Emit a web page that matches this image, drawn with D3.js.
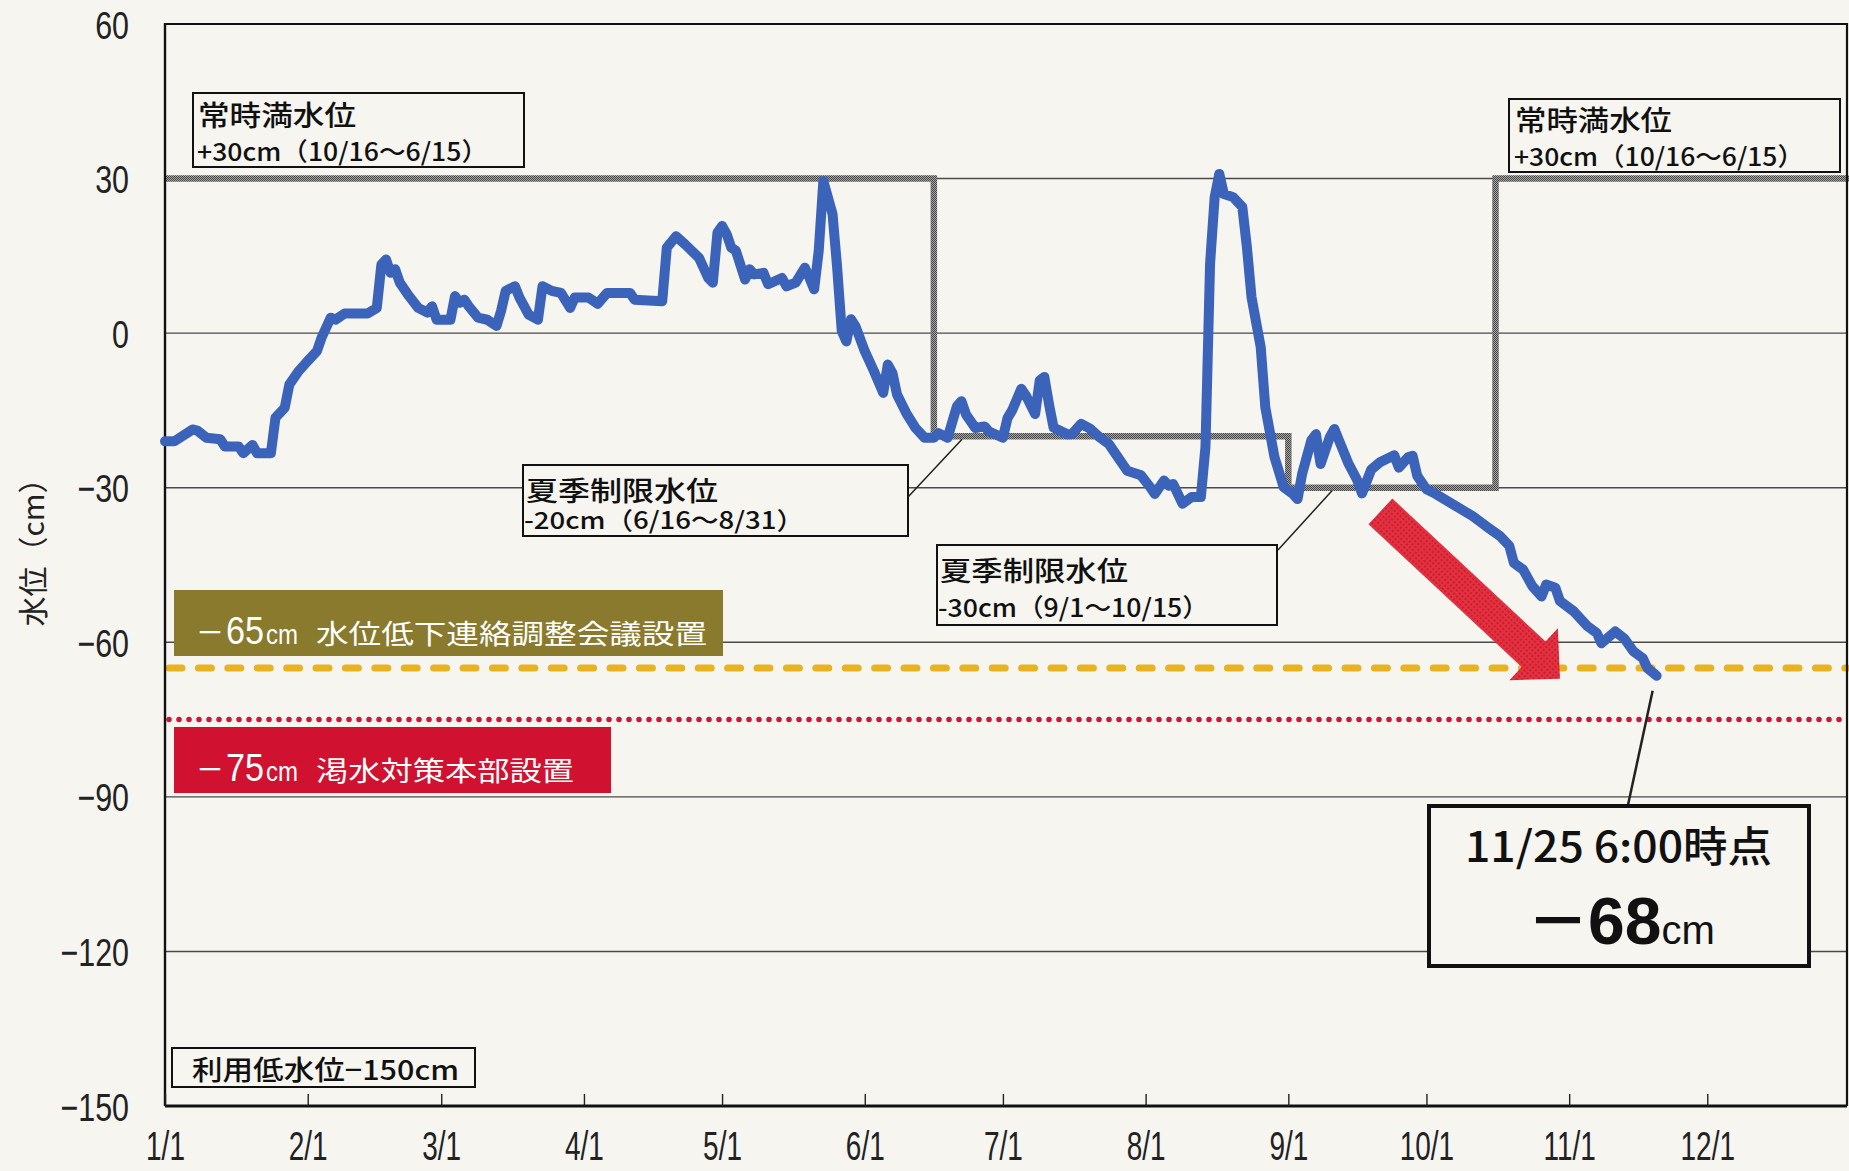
<!DOCTYPE html>
<html>
<head>
<meta charset="utf-8">
<script src="https://cdn.jsdelivr.net/npm/d3@7"></script>
<style>
  body { margin: 0; background: #f6f5f0; }
  svg { display: block; }
</style>
</head>
<body>
<div id="chart"></div>
<script>
// water level readings (cm), 2024
var dates = ["1/1","1/3","1/7","1/8","1/10","1/13","1/14","1/17","1/18","1/20","1/21","1/24","1/25","1/27","1/28","1/30",
  "2/1","2/3","2/4","2/6","2/7","2/9","2/14","2/16","2/17","2/18","2/19","2/20","2/21","2/23","2/25","2/27","2/28","2/29",
  "3/3","3/4","3/5","3/6","3/7","3/9","3/11","3/13","3/14","3/15","3/17","3/18","3/20","3/22","3/23","3/25","3/27","3/29","3/30",
  "4/2","4/4","4/6","4/11","4/12","4/18","4/19","4/21","4/23","4/26","4/28","4/29","4/30",
  "5/1","5/2","5/3","5/4","5/6","5/7","5/8","5/10","5/11","5/14","5/15","5/17","5/19","5/20","5/21","5/22","5/23","5/25","5/26","5/27","5/28","5/29","5/30",
  "6/1","6/3","6/5","6/6","6/7","6/8","6/10","6/12","6/14","6/16","6/17","6/19","6/21","6/22","6/23","6/25","6/27","6/28",
  "7/1","7/2","7/3","7/5","7/6","7/8","7/9","7/10","7/11","7/12","7/15","7/16","7/18","7/20","7/22","7/24","7/26","7/28","7/31",
  "8/2","8/3","8/5","8/6","8/7","8/9","8/11","8/13","8/14","8/15","8/16","8/17","8/18","8/20","8/22","8/23","8/24","8/26","8/27","8/29","8/31",
  "9/2","9/3","9/4","9/6","9/7","9/8","9/10","9/11","9/12","9/14","9/16","9/17","9/19","9/21","9/24","9/25","9/27","9/28","9/29",
  "10/1","10/3","10/5","10/8","10/11","10/14","10/17","10/19","10/20","10/22","10/24","10/26","10/27","10/29","10/30",
  "11/2","11/5","11/7","11/8","11/11","11/13","11/15","11/17","11/18","11/20"];
var levels = [-21,-21,-18.7,-18.9,-20.3,-20.6,-22,-22,-23.3,-21.7,-23.3,-23.3,-16.4,-14.5,-10,-7.4,
  -5.4,-3.5,-0.9,3,2.6,3.8,3.8,4.9,13.3,14.3,11.7,12.4,9.8,7.2,4.9,4,5.2,2.6,
  2.6,7.2,5.9,6.5,5.2,3,2.6,1.4,4.3,8.2,9.1,6.9,3.6,2.6,9.1,8.2,7.8,4.9,6.9,
  6.9,5.7,7.8,7.8,6.5,6.2,16.6,18.8,17.2,14.6,10.7,9.8,19.5,
  20.8,19.2,16.6,16,10.4,12.4,11.4,11.7,9.5,10.7,9.1,9.8,12.7,10.7,8.5,16,29.5,23.1,12.7,0.4,-1.6,2.7,1.3,
  -3.5,-7.4,-11.6,-6.1,-7.7,-11.9,-15.5,-18.4,-20.3,-20.3,-19.4,-20.3,-14.2,-13.2,-15.8,-18.4,-18.1,-19.1,
  -20.3,-16.5,-15,-10.8,-12.1,-15.7,-9.2,-8.5,-13.7,-18.3,-19.6,-19.6,-17.6,-18.6,-20.2,-21.5,-24.1,-26.7,-27.6,
  -29.9,-31.2,-28.6,-29.6,-29.3,-33.1,-31.8,-31.8,-22.1,13.5,26.4,30.9,27,26.4,24.5,16.7,7,-2.7,-14.4,-24.1,-29.9,
  -31.2,-32.2,-27.3,-20.8,-19.6,-25.4,-20.2,-18.6,-20.8,-25.2,-28.6,-31.1,-26.5,-25,-23.7,-26.1,-24.1,-23.8,-27.7,
  -30.3,-31.2,-32.3,-33.9,-35.5,-37.5,-39.4,-41.3,-44.6,-45.9,-49.1,-51.1,-48.8,-49.4,-52,
  -54,-56.9,-58.2,-60.2,-57.9,-59.3,-61.8,-63.1,-65,-66.5];

// operating rule (step), starts and levels
var ruleStarts = ["1/1","6/16","9/1","10/16"];
var ruleLevels = [30,-20,-30,30];

// thresholds
var thresholdLevels = [-65,-75];

var yTicks = [60,30,0,-30,-60,-90,-120,-150];
var gridLevels = [30,0,-30,-60,-90,-120];
var monthTicks = ["1/1","2/1","3/1","4/1","5/1","6/1","7/1","8/1","9/1","10/1","11/1","12/1"];

var W = 1849, H = 1171;
var plotL = 165, plotR = 1847, plotT = 24, plotB = 1106;
var bg = "#f6f5f0";
var jp = "'Noto Sans CJK JP', sans-serif";
var num = "'Liberation Sans', Arial, sans-serif";

var parse = d3.timeParse("%Y/%m/%d");
function day(s) { return parse("2024/" + s); }

var x = d3.scaleTime()
  .domain([day("1/1"), parse("2025/1/1")])
  .range([plotL, 1850]);
var y = d3.scaleLinear()
  .domain([-150, 60])
  .range([plotB, plotT]);

var svg = d3.select("#chart").append("svg")
  .attr("width", W).attr("height", H);

svg.append("rect").attr("width", W).attr("height", H).attr("fill", bg);

var defs = svg.append("defs");
var checker = defs.append("pattern")
  .attr("id", "checker")
  .attr("patternUnits", "userSpaceOnUse")
  .attr("width", 2).attr("height", 2);
checker.append("rect").attr("width", 2).attr("height", 2).attr("fill", "#a8a8a8");
checker.append("rect").attr("width", 1).attr("height", 1).attr("fill", "#444");
checker.append("rect").attr("x", 1).attr("y", 1).attr("width", 1).attr("height", 1).attr("fill", "#444");

var dots = defs.append("pattern")
  .attr("id", "halftone")
  .attr("patternUnits", "userSpaceOnUse")
  .attr("width", 4).attr("height", 4);
dots.append("rect").attr("width", 4).attr("height", 4).attr("fill", "#e4313f");
dots.append("circle").attr("cx", 2).attr("cy", 2).attr("r", 1.1).attr("fill", "#c01830");

// grid
svg.append("g").selectAll("line")
  .data(gridLevels)
  .join("line")
  .attr("x1", plotL).attr("x2", plotR)
  .attr("y1", d => y(d)).attr("y2", d => y(d))
  .attr("stroke", "#4a4a4a")
  .attr("stroke-width", 1.4);

// threshold lines
svg.append("line")
  .attr("x1", plotL + 4).attr("x2", plotR)
  .attr("y1", y(thresholdLevels[0])).attr("y2", y(thresholdLevels[0]))
  .attr("stroke", "#e8b321")
  .attr("stroke-width", 7)
  .attr("stroke-linecap", "round")
  .attr("stroke-dasharray", "13 16.4");
svg.append("line")
  .attr("x1", plotL + 4).attr("x2", plotR)
  .attr("y1", y(thresholdLevels[1])).attr("y2", y(thresholdLevels[1]))
  .attr("stroke", "#cf1436")
  .attr("stroke-width", 5.5)
  .attr("stroke-linecap", "round")
  .attr("stroke-dasharray", "0 10");

// rule curve
var rulePts = ruleStarts.map((s, i) => [day(s), ruleLevels[i]]);
rulePts.push([parse("2025/1/1"), ruleLevels[ruleLevels.length - 1]]);
svg.append("path")
  .datum(rulePts)
  .attr("fill", "none")
  .attr("stroke", "url(#checker)")
  .attr("stroke-width", 6.5)
  .attr("d", d3.line().curve(d3.curveStepAfter).x(d => x(d[0])).y(d => y(d[1])));

// frame
svg.append("path")
  .attr("d", "M" + plotL + "," + y(60) + "H" + plotR + "V" + plotB)
  .attr("fill", "none").attr("stroke", "#111").attr("stroke-width", 2.2);
svg.append("line")
  .attr("x1", plotL).attr("x2", plotL).attr("y1", y(60) - 1).attr("y2", plotB)
  .attr("stroke", "#111").attr("stroke-width", 2.4);

// y axis labels
var ySq = 0.78;
var yAxis = svg.append("g")
  .attr("transform", "translate(" + plotL + ",0)")
  .call(d3.axisLeft(y).tickValues(yTicks).tickSize(0).tickPadding(0));
yAxis.select(".domain").remove();
yAxis.selectAll("text")
  .attr("x", -36 / ySq)
  .attr("dy", "0.36em")
  .attr("transform", "scale(" + ySq + ",1)")
  .style("font-family", num)
  .style("font-size", "39px")
  .attr("fill", "#222");

// x axis
var xAxis = svg.append("g")
  .attr("transform", "translate(0," + plotB + ")")
  .call(d3.axisBottom(x)
    .tickValues(monthTicks.map(day))
    .tickFormat(d3.timeFormat("%-m/%-d"))
    .tickSizeInner(-12)
    .tickSizeOuter(0)
    .tickPadding(26));
xAxis.select(".domain")
  .attr("d", "M" + plotL + ",0H" + plotR)
  .attr("stroke", "#111").attr("stroke-width", 3);
xAxis.selectAll(".tick line").attr("stroke", "#222").attr("stroke-width", 1.4);
xAxis.selectAll("text")
  .attr("transform", "scale(0.7,1)")
  .style("font-family", num)
  .style("font-size", "40px")
  .attr("fill", "#222");

// y axis title
svg.append("text")
  .attr("transform", "translate(44,545) rotate(-90)")
  .attr("text-anchor", "middle")
  .style("font-family", jp)
  .style("font-size", "30px")
  .attr("fill", "#222")
  .text("水位（cm）");

// annotation boxes
function note(bx, by, bw, bh, lines) {
  var g = svg.append("g");
  g.append("rect")
    .attr("x", bx).attr("y", by).attr("width", bw).attr("height", bh)
    .attr("fill", bg).attr("stroke", "#111").attr("stroke-width", 2);
  lines.forEach(function (l) {
    g.append("text")
      .attr("x", l.x).attr("y", l.y)
      .attr("textLength", l.w)
      .attr("lengthAdjust", "spacingAndGlyphs")
      .style("font-family", jp)
      .style("font-size", l.fs + "px")
      .style("font-weight", 500)
      .attr("fill", "#111")
      .text(l.t);
  });
  return g;
}

note(193, 93, 331, 74, [
  {t: "常時満水位", x: 198, y: 126, w: 158, fs: 28},
  {t: "+30cm（10/16〜6/15）", x: 197, y: 161, w: 291, fs: 25}
]);
note(1509, 99, 331, 73, [
  {t: "常時満水位", x: 1515, y: 131, w: 157, fs: 28},
  {t: "+30cm（10/16〜6/15）", x: 1514, y: 166, w: 290, fs: 25}
]);
note(523, 465, 385, 71, [
  {t: "夏季制限水位", x: 526, y: 501, w: 192, fs: 27},
  {t: "-20cm（6/16〜8/31）", x: 524, y: 529, w: 280, fs: 24}
]);
note(937, 545, 340, 80, [
  {t: "夏季制限水位", x: 940, y: 581, w: 188, fs: 27},
  {t: "-30cm（9/1〜10/15）", x: 938, y: 617, w: 271, fs: 25}
]);
note(172, 1048, 303, 39, [
  {t: "利用低水位−150cm", x: 192, y: 1080, w: 267, fs: 27}
]);

// leader lines
svg.append("line").attr("x1", 908).attr("y1", 497).attr("x2", 962).attr("y2", y(ruleLevels[1]) + 3)
  .attr("stroke", "#222").attr("stroke-width", 1.5);
svg.append("line").attr("x1", 1278).attr("y1", 550).attr("x2", 1332).attr("y2", y(ruleLevels[2]) + 3)
  .attr("stroke", "#222").attr("stroke-width", 1.5);

// threshold banners
function banner(bx, by, bw, bh, fill, lvl, txt, tx, tw, base) {
  var g = svg.append("g");
  g.append("rect").attr("x", bx).attr("y", by).attr("width", bw).attr("height", bh).attr("fill", fill);
  var parts = [
    {t: "－", x: 196, w: 28, fs: 32, f: jp},
    {t: String(Math.abs(lvl)), x: 226, w: 38, fs: 38, f: num},
    {t: "cm", x: 266, w: 32, fs: 27, f: num},
    {t: txt, x: tx, w: tw, fs: 27, f: jp}
  ];
  parts.forEach(function (p) {
    g.append("text")
      .attr("x", p.x).attr("y", base)
      .attr("textLength", p.w)
      .attr("lengthAdjust", "spacingAndGlyphs")
      .style("font-family", p.f)
      .style("font-size", p.fs + "px")
      .attr("fill", "#fff")
      .text(p.t);
  });
}
banner(174, 590, 549, 66, "#8a7a2d", thresholdLevels[0], "水位低下連絡調整会議設置", 316, 391, 644);
banner(174, 727, 437, 66, "#d0112f", thresholdLevels[1], "渇水対策本部設置", 316, 258, 781);

// water level line
svg.append("path")
  .datum(dates.map((d, i) => [day(d), levels[i]]))
  .attr("fill", "none")
  .attr("stroke", "#3a63b9")
  .attr("stroke-width", 10)
  .attr("stroke-linejoin", "round")
  .attr("stroke-linecap", "round")
  .attr("d", d3.line().x(d => x(d[0])).y(d => y(d[1])));

// red arrow
var ax0 = x(day("9/21")), ay0 = y(-34.6), ax1 = x(day("10/30")), ay1 = y(-67.1);
var len = Math.hypot(ax1 - ax0, ay1 - ay0);
var ang = Math.atan2(ay1 - ay0, ax1 - ax0) * 180 / Math.PI;
var hw = 17.5, hh = 35.5, hl = 36;
svg.append("path")
  .attr("transform", "translate(" + ax0 + "," + ay0 + ") rotate(" + ang + ")")
  .attr("d", "M0," + (-hw) + "H" + (len - hl) + "V" + (-hh) + "L" + len + ",0L" + (len - hl) + "," + hh +
    "V" + hw + "H0Z")
  .attr("fill", "url(#halftone)");

// callout
var last = dates.length - 1;
svg.append("line")
  .attr("x1", x(day(dates[last])) - 4).attr("y1", y(levels[last]) + 15)
  .attr("x2", 1628).attr("y2", 805)
  .attr("stroke", "#222").attr("stroke-width", 2.5);
svg.append("rect")
  .attr("x", 1429).attr("y", 806).attr("width", 380).attr("height", 160)
  .attr("fill", bg).attr("stroke", "#111").attr("stroke-width", 4);
svg.append("text")
  .attr("x", 1465).attr("y", 862)
  .attr("textLength", 307).attr("lengthAdjust", "spacingAndGlyphs")
  .style("font-family", jp).style("font-size", "42px").style("font-weight", 500)
  .attr("fill", "#111")
  .text("11/25 6:00時点");
var big = svg.append("text").attr("y", 944).attr("fill", "#111");
big.append("tspan").attr("x", 1527).style("font-family", jp).style("font-size", "62px").style("font-weight", 700).text("－");
big.append("tspan").attr("x", 1588).style("font-family", num).style("font-size", "66px").style("font-weight", 700)
  .text(String(Math.abs(Math.round(levels[last] - 1.5))));
big.append("tspan").style("font-family", num).style("font-size", "40px").style("font-weight", 400).text("cm");
</script>
</body>
</html>
